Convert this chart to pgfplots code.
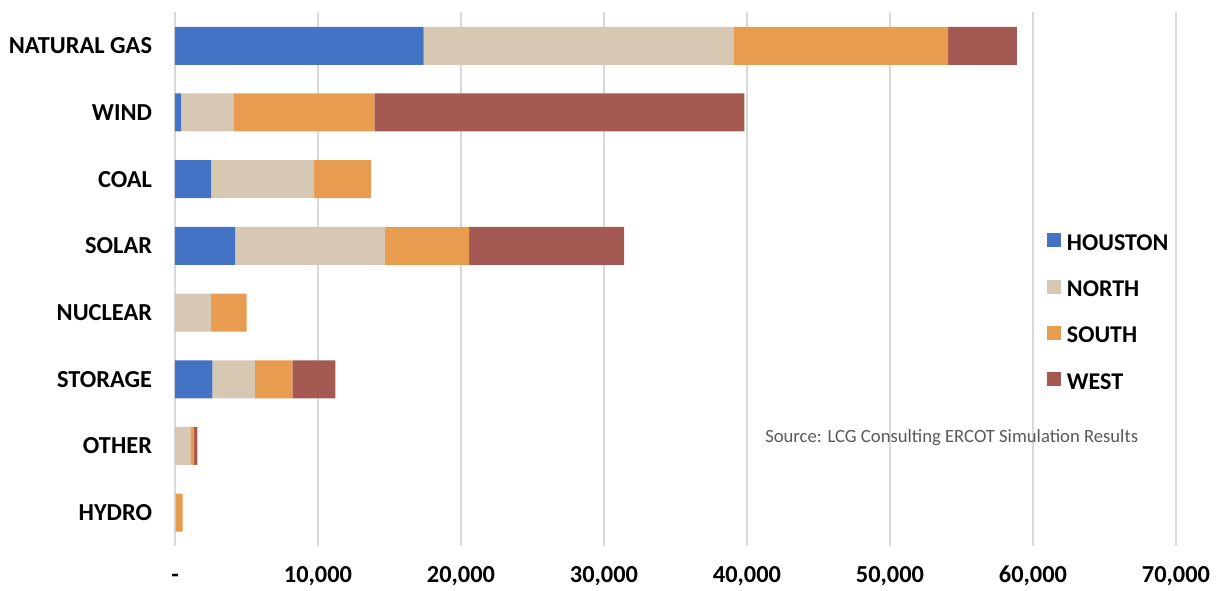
\documentclass[border=0pt]{standalone}
\usepackage{pgfplots}
\pgfplotsset{compat=1.18}
\usepackage{fontspec}
\setmainfont{Carlito}
\definecolor{cH}{HTML}{4472C4}
\definecolor{cN}{HTML}{D6C8B3}
\definecolor{cS}{HTML}{E89C4F}
\definecolor{cW}{HTML}{A45A52}
\begin{document}
\begin{tikzpicture}
\useasboundingbox (-131.25pt,-33.75pt) rectangle (782.25pt,409.5pt);
\begin{axis}[
  at={(0,0)}, anchor=south west,
  scale only axis, width=750.75pt, height=400.2pt,
  xbar stacked, bar width=28.5pt,
  xmin=0, xmax=70000, ymin=-0.5, ymax=7.5, y dir=reverse,
  axis line style={draw=none},
  tick style={draw=none},
  major tick length=0pt,
  ytick={0,...,7},
  yticklabels={NATURAL GAS, WIND, COAL, SOLAR, NUCLEAR, STORAGE, OTHER, HYDRO},
  xtick={0,10000,20000,30000,40000,50000,60000,70000},
  xticklabels={-, {10,000}, {20,000}, {30,000}, {40,000}, {50,000}, {60,000}, {70,000}},
  tick label style={font=\bfseries\fontsize{18.3}{18.3}\selectfont, text=black},
  yticklabel style={anchor=east, inner sep=0pt, xshift=-17pt},
  xticklabel style={anchor=base, inner sep=0pt, yshift=-27.5pt},
  xmajorgrids=true, ymajorgrids=false,
  major grid style={draw=black!15, line width=1.1pt},
  legend image code/.code={\fill[#1] (0pt,-3pt) rectangle (10.5pt,7.5pt);},
  legend style={at={(0.8711,0.5859)}, anchor=north west, draw=none, fill=none,
    inner sep=0pt, outer sep=0pt, row sep=20.6pt, column sep=4.5pt,
    font=\bfseries\fontsize{18}{18}\selectfont,
    nodes={inner sep=0pt, outer sep=0pt}},
  legend cell align=left,
]
\addplot[fill=cH, draw=none] coordinates {(17390,0) (420,1) (2520,2) (4200,3) (0,4) (2610,5) (0,6) (0,7)};
\addplot[fill=cN, draw=none] coordinates {(21700,0) (3670,1) (7200,2) (10490,3) (2520,4) (2980,5) (1070,6) (50,7)};
\addplot[fill=cS, draw=none] coordinates {(14970,0) (9850,1) (3990,2) (5870,3) (2490,4) (2610,5) (260,6) (480,7)};
\addplot[fill=cW, draw=none] coordinates {(4820,0) (25875,1) (0,2) (10840,3) (0,4) (3010,5) (230,6) (0,7)};
\legend{HOUSTON, NORTH, SOUTH, WEST}
\node[anchor=west, inner sep=0pt, font=\fontsize{14}{14}\selectfont, text=black!65] at (axis cs:41260,5.87) {Source: LCG Consulting ERCOT Simulation Results};
\end{axis}
\end{tikzpicture}
\end{document}
